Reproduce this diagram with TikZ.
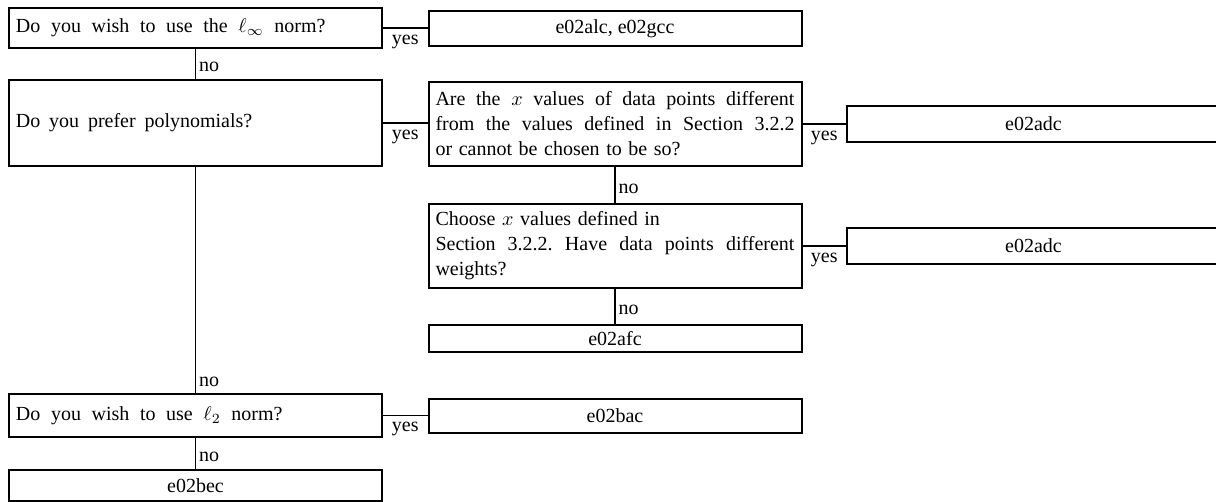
\documentclass[tikz,border=0pt]{standalone}
\usepackage{fontspec}
\setmainfont{Liberation Serif}
\newcommand{\ff}{\fontsize{10}{12.5}\selectfont}
\newcommand{\wsa}{\spaceskip=5.3pt plus 1pt minus 1pt\xspaceskip=\spaceskip\relax}
\newcommand{\wsc}{\spaceskip=4.4pt plus 1pt minus 1pt\xspaceskip=\spaceskip\relax}
\newcommand{\wsb}{\spaceskip=3.3pt plus 3pt minus 1pt\xspaceskip=\spaceskip\relax}
\begin{document}
\begin{tikzpicture}[x=0.5pt,y=-0.5pt,
  q/.style={draw, line width=1pt, text width=179.5pt, inner xsep=3.5pt, inner ysep=0pt, align=left, font=\ff},
  r/.style={draw, line width=1pt, minimum width=186.5pt, inner sep=0pt, align=center, font=\ff},
  conn/.style={line width=0.7pt},
  yes/.style={midway, below, inner sep=3pt, font=\ff},
  no/.style={pos=0.6, right, inner sep=1.5pt, font=\ff}]
\useasboundingbox (0,0) rectangle (1216,502);
\node[q, minimum height=20pt] (b1) at (195.5,28) {\wsa Do you wish to use the $\ell_\infty$ norm?};
\node[r, minimum height=17.5pt] (r1) at (615,28.5) {e02alc, e02gcc};
\node[q, minimum height=43pt] (b2) at (195.5,123) {\wsc Do you prefer polynomials?};
\node[q, minimum height=42pt, align=justify] (b3) at (615,124) {\wsb Are the $x$ values of data points different\linebreak from the values defined in Section 3.2.2\linebreak or cannot be chosen to be so?};
\node[r, minimum height=18pt] (r2) at (1033.5,124) {e02adc};
\node[q, minimum height=42pt, align=justify] (b4) at (615,246) {\wsb Choose $x$ values defined in\newline Section 3.2.2. Have data points different\linebreak weights?};
\node[r, minimum height=18pt] (r3) at (1033.5,246) {e02adc};
\node[r, minimum height=13.5pt] (r4) at (615,339) {e02afc};
\node[q, minimum height=21.5pt] (b5) at (195.5,415.5) {\wsa Do you wish to use $\ell_2$ norm?};
\node[r, minimum height=17pt] (r5) at (615,416) {e02bac};
\node[r, minimum height=15.5pt] (r6) at (195.5,485.5) {e02bec};
\draw[conn] (b1.east) -- (b1.east -| r1.west) node[yes]{yes};
\draw[conn] (b1.south) -- (b2.north) node[no]{no};
\draw[conn] (b2.east) -- (b2.east -| b3.west) node[yes]{yes};
\draw[conn] (b3.east) -- (b3.east -| r2.west) node[yes]{yes};
\draw[conn] (b3.south) -- (b4.north) node[no]{no};
\draw[conn] (b4.east) -- (b4.east -| r3.west) node[yes]{yes};
\draw[conn] (b4.south) -- (r4.north) node[no]{no};
\draw[conn] (b2.south) -- (b5.north) node[pos=1, anchor=south west, inner xsep=1.5pt, inner ysep=3pt, font=\ff]{no};
\draw[conn] (b5.east) -- (b5.east -| r5.west) node[yes]{yes};
\draw[conn] (b5.south) -- (r6.north) node[no]{no};
\end{tikzpicture}
\end{document}
